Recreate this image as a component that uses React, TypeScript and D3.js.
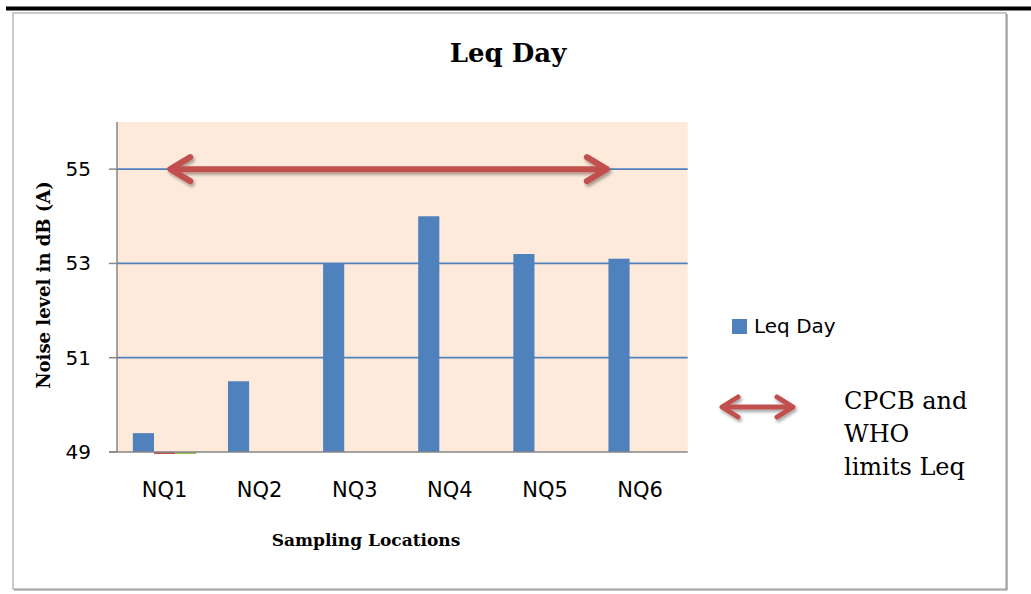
import React from "react";
import * as d3 from "d3";

const categories = ["NQ1", "NQ2", "NQ3", "NQ4", "NQ5", "NQ6"];
const leqDay = [49.4, 50.5, 53.0, 54.0, 53.2, 53.1];
// two empty helper series (drawn as hairlines at the axis for NQ1 only)
const series2: (number | null)[] = [49, null, null, null, null, null];
const series3: (number | null)[] = [49, null, null, null, null, null];
const yTicks = [49, 51, 53, 55];
const yDomain = [49, 56];
const limitValue = 55;
const limitFrom = 0.56; // in category units
const limitTo = 5.15;

const W = 1031;
const H = 594;
const plot = { left: 117, right: 687.7, top: 122, bottom: 452 };

const BLUE = "#4F81BD";
const RED = "#C0504D";
const GREEN = "#9BBB59";
const SANS = "'DejaVu Sans', sans-serif";
const SERIF = "'DejaVu Serif', serif";

function Arrow({ x1, x2, y, head, spread, sw }: { x1: number; x2: number; y: number; head: number; spread: number; sw: number }) {
  return (
    <g filter="url(#shadow)" stroke={RED} strokeWidth={sw} strokeLinecap="round" strokeLinejoin="round" fill="none">
      <line x1={x1 + 1} y1={y} x2={x2 - 1} y2={y} />
      <polyline points={`${x1 + head},${y - spread} ${x1},${y} ${x1 + head},${y + spread}`} />
      <polyline points={`${x2 - head},${y - spread} ${x2},${y} ${x2 - head},${y + spread}`} />
    </g>
  );
}

export default function App() {
  const x = d3.scaleBand<string>().domain(categories).range([plot.left, plot.right]).paddingInner(0).paddingOuter(0);
  const bw = x.bandwidth();
  const barW = bw / 4.5;
  const offset = barW * 0.75;
  const y = d3.scaleLinear().domain(yDomain).range([plot.bottom, plot.top]);
  const xc = d3.scaleLinear().domain([0, categories.length]).range([plot.left, plot.right]);

  const series = [
    { vals: leqDay as (number | null)[], color: BLUE },
    { vals: series2, color: RED },
    { vals: series3, color: GREEN },
  ];

  return (
    <svg width={W} height={H} style={{ position: "absolute", left: 0, top: 0, background: "#fff" }}>
      <defs>
        <filter id="shadow" x="-10%" y="-100%" width="120%" height="300%">
          <feDropShadow dx="1.5" dy="2.5" stdDeviation="1.6" floodColor="#000" floodOpacity="0.35" />
        </filter>
      </defs>
      {/* top black rule */}
      <rect x={6} y={6.5} width={W - 6} height={4} fill="#000" />
      {/* outer border */}
      <rect x={13} y={13} width={993} height={576} fill="#fff" stroke="#b8b8b8" strokeWidth={1.5} />
      <line x1={1007} y1={14} x2={1007} y2={590} stroke="#8a8a8a" strokeWidth={1.2} />
      <line x1={14} y1={590} x2={1007} y2={590} stroke="#8a8a8a" strokeWidth={1.2} />

      {/* title */}
      <text x={508} y={62} textAnchor="middle" fontFamily={SERIF} fontWeight="bold" fontSize={26}>
        Leq Day
      </text>

      {/* plot area */}
      <rect x={plot.left} y={plot.top} width={plot.right - plot.left} height={plot.bottom - plot.top} fill="#FDEADA" />
      {yTicks.filter((t) => t !== yDomain[0]).map((t) => (
        <line key={t} x1={plot.left} x2={plot.right} y1={y(t)} y2={y(t)} stroke={BLUE} strokeWidth={1.8} />
      ))}

      {/* bars */}
      {series.map((s, si) =>
        s.vals.map((v, i) => {
          if (v == null) return null;
          const bx = (x(categories[i]) as number) + offset + si * barW;
          const top = y(v);
          const h = plot.bottom - top;
          if (h < 1) {
            return <rect key={`${si}-${i}`} x={bx} y={plot.bottom} width={barW} height={2} fill={s.color} />;
          }
          return <rect key={`${si}-${i}`} x={bx} y={top} width={barW} height={h} fill={s.color} />;
        })
      )}

      {/* axes */}
      <line x1={plot.left} x2={plot.left} y1={plot.top} y2={plot.bottom} stroke="#868686" strokeWidth={1.5} />
      <line x1={plot.left - 8} x2={plot.right} y1={plot.bottom} y2={plot.bottom} stroke="#868686" strokeWidth={1.5} />
      {yTicks.map((t) => (
        <g key={t}>
          <line x1={plot.left - 8} x2={plot.left} y1={y(t)} y2={y(t)} stroke="#868686" strokeWidth={1.5} />
          <text x={91} y={y(t) + 7} textAnchor="end" fontFamily={SANS} fontSize={20} fill="#000">
            {t}
          </text>
        </g>
      ))}
      {categories.map((c) => (
        <text key={c} x={(x(c) as number) + bw / 2} y={497} textAnchor="middle" fontFamily={SANS} fontSize={21} fill="#000">
          {c}
        </text>
      ))}

      {/* limit arrow */}
      <Arrow x1={xc(limitFrom)} x2={xc(limitTo)} y={y(limitValue)} head={20} spread={12} sw={6} />

      {/* axis titles */}
      <text x={366} y={546} textAnchor="middle" fontFamily={SERIF} fontWeight="bold" fontSize={17}>
        Sampling Locations
      </text>
      <text transform={`translate(50,285) rotate(-90)`} textAnchor="middle" fontFamily={SERIF} fontWeight="bold" fontSize={18}>
        Noise level in dB (A)
      </text>

      {/* legend */}
      <rect x={732} y={319} width={15} height={15} fill={BLUE} />
      <text x={754} y={333} fontFamily={SANS} fontSize={20} fill="#000">
        Leq Day
      </text>
      <Arrow x1={722} x2={793} y={407} head={16} spread={10} sw={5} />
      <text fontFamily={SERIF} fontSize={24} fill="#000">
        <tspan x={844} y={409}>CPCB and</tspan>
        <tspan x={844} y={442}>WHO</tspan>
        <tspan x={844} y={475}>limits Leq</tspan>
      </text>
    </svg>
  );
}
